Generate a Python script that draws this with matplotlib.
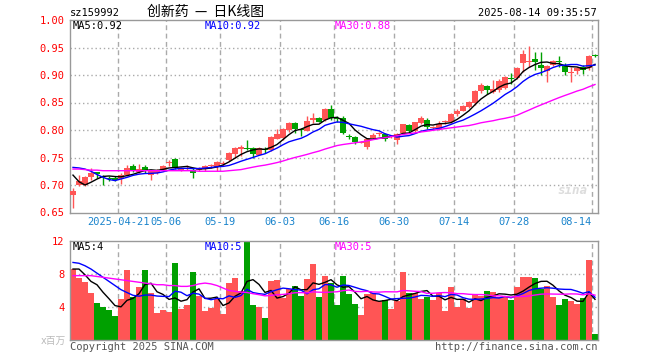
import numpy as np
import pandas as pd
import matplotlib.pyplot as plt

plt.rcParams["font.family"] = ["DejaVu Sans Mono", "Noto Sans CJK SC"]

# 日期刻度（交易日序号）
date_labels = ["2025-04-21", "05-06", "05-19", "06-03", "06-16", "06-30", "07-14", "07-28", "08-14"]
date_pos = [8, 16, 25, 35, 44, 54, 64, 74, 87]

# 日K数据
open_ = [0.682, 0.700, 0.700, 0.715, 0.723, 0.716, 0.713, 0.712, 0.711, 0.719,
         0.735, 0.724, 0.733, 0.719, 0.722, 0.727, 0.740, 0.747, 0.728, 0.729,
         0.727, 0.728, 0.729, 0.734, 0.733, 0.738, 0.745, 0.756, 0.765, 0.768,
         0.768, 0.755, 0.766, 0.764, 0.784, 0.785, 0.800, 0.812, 0.802, 0.799,
         0.819, 0.822, 0.818, 0.838, 0.822, 0.821, 0.789, 0.788, 0.777, 0.770,
         0.786, 0.793, 0.792, 0.787, 0.782, 0.794, 0.809, 0.798, 0.812, 0.819,
         0.804, 0.802, 0.814, 0.814, 0.829, 0.835, 0.842, 0.849, 0.871, 0.880,
         0.870, 0.873, 0.876, 0.895, 0.894, 0.921, 0.924, 0.929, 0.918, 0.907,
         0.919, 0.926, 0.917, 0.903, 0.907, 0.914, 0.912, 0.937]
high = [0.694, 0.718, 0.717, 0.731, 0.724, 0.718, 0.716, 0.716, 0.721, 0.736,
        0.738, 0.738, 0.736, 0.727, 0.729, 0.737, 0.745, 0.750, 0.733, 0.736,
        0.731, 0.733, 0.736, 0.738, 0.743, 0.743, 0.760, 0.770, 0.772, 0.782,
        0.770, 0.769, 0.769, 0.790, 0.802, 0.804, 0.815, 0.815, 0.804, 0.825,
        0.831, 0.824, 0.840, 0.845, 0.826, 0.826, 0.792, 0.789, 0.780, 0.786,
        0.795, 0.797, 0.794, 0.791, 0.794, 0.811, 0.811, 0.815, 0.826, 0.822,
        0.808, 0.817, 0.819, 0.831, 0.839, 0.846, 0.853, 0.872, 0.885, 0.882,
        0.891, 0.892, 0.899, 0.904, 0.915, 0.945, 0.953, 0.941, 0.941, 0.918,
        0.928, 0.934, 0.921, 0.915, 0.915, 0.918, 0.937, 0.938]
low = [0.658, 0.698, 0.698, 0.710, 0.712, 0.700, 0.708, 0.707, 0.702, 0.717,
       0.724, 0.722, 0.721, 0.709, 0.720, 0.725, 0.735, 0.729, 0.726, 0.727,
       0.713, 0.726, 0.725, 0.731, 0.726, 0.735, 0.744, 0.750, 0.753, 0.764,
       0.750, 0.754, 0.758, 0.762, 0.783, 0.782, 0.797, 0.794, 0.790, 0.798,
       0.812, 0.814, 0.816, 0.819, 0.814, 0.792, 0.783, 0.774, 0.776, 0.766,
       0.783, 0.789, 0.780, 0.785, 0.774, 0.793, 0.796, 0.797, 0.810, 0.801,
       0.802, 0.800, 0.810, 0.812, 0.826, 0.834, 0.840, 0.846, 0.868, 0.865,
       0.868, 0.870, 0.875, 0.884, 0.893, 0.905, 0.914, 0.910, 0.900, 0.887,
       0.917, 0.914, 0.900, 0.888, 0.902, 0.902, 0.910, 0.932]
close = [0.690, 0.707, 0.715, 0.722, 0.720, 0.714, 0.711, 0.710, 0.719, 0.731,
         0.726, 0.729, 0.727, 0.725, 0.726, 0.735, 0.742, 0.731, 0.730, 0.731,
         0.722, 0.731, 0.734, 0.736, 0.741, 0.740, 0.759, 0.768, 0.770, 0.766,
         0.756, 0.768, 0.764, 0.788, 0.792, 0.801, 0.813, 0.801, 0.800, 0.816,
         0.821, 0.815, 0.838, 0.821, 0.820, 0.794, 0.787, 0.778, 0.778, 0.784,
         0.791, 0.794, 0.784, 0.789, 0.792, 0.810, 0.798, 0.814, 0.821, 0.806,
         0.806, 0.810, 0.816, 0.829, 0.835, 0.844, 0.851, 0.871, 0.881, 0.873,
         0.875, 0.889, 0.897, 0.893, 0.913, 0.939, 0.926, 0.924, 0.913, 0.916,
         0.926, 0.924, 0.905, 0.905, 0.913, 0.909, 0.935, 0.935]
# 成交量（百万）
volume = [8.57, 7.56, 7.07, 5.74, 4.53, 4.04, 3.64, 2.91, 4.97, 8.48,
          5.25, 6.46, 8.48, 5.74, 3.31, 3.64, 3.43, 9.37, 3.76, 4.24,
          8.28, 5.37, 3.52, 3.92, 4.93, 3.15, 6.95, 7.56, 5.94, 11.9,
          4.24, 4.04, 2.71, 7.15, 7.27, 5.13, 6.14, 6.55, 5.33, 7.39,
          9.21, 5.25, 7.76, 6.95, 4.24, 7.80, 5.58, 4.36, 3.03, 5.58,
          5.74, 4.73, 4.85, 3.76, 4.73, 8.24, 5.74, 5.74, 4.97, 5.25,
          4.85, 5.74, 3.52, 6.46, 4.04, 4.97, 3.92, 5.58, 5.37, 5.94,
          5.86, 5.25, 5.37, 4.85, 6.46, 7.68, 7.68, 7.56, 6.14, 6.55,
          5.25, 4.24, 4.97, 4.73, 4.36, 5.13, 9.70, 0.73]

# 均线起始段（窗口之前的历史数据不可见，按图读取）
ma5_head = [0.718, 0.706, 0.700, 0.705]
ma10_head = [0.732, 0.731, 0.729, 0.725, 0.719, 0.714, 0.710, 0.708, 0.711]
ma30_head = [0.729, 0.729, 0.728, 0.727, 0.727, 0.726, 0.726, 0.726, 0.726, 0.726,
             0.726, 0.726, 0.726, 0.726, 0.726, 0.726, 0.726, 0.726, 0.726, 0.726,
             0.726, 0.725, 0.725, 0.725, 0.725, 0.725, 0.726, 0.727, 0.728]
vma5_head = [8.6, 8.6, 7.9, 7.1]
vma10_head = [9.4, 9.3, 9.0, 8.6, 8.1, 7.6, 7.1, 6.6, 6.1]
vma30_head = [7.8, 7.8, 7.8, 7.8, 7.7, 7.6, 7.5, 7.4, 7.3, 7.2,
              7.1, 7.0, 6.9, 6.8, 6.7, 6.7, 6.6, 6.6, 6.5, 6.5,
              6.6, 6.8, 6.9, 6.8, 6.6, 6.3, 6.0, 5.9, 5.8]


def moving_average(values, n, head):
    ma = pd.Series(values).rolling(n).mean().to_numpy()
    ma[:n - 1] = head
    return ma


RED = "#ff5555"
GREEN = "#00a000"
GRID = "#aaaaaa"

x = np.arange(len(close))
o, h, l, c = map(np.array, (open_, high, low, close))
up = c >= o
colors = np.where(up, RED, GREEN)

fig = plt.figure(figsize=(6.6, 3.6), dpi=100)
ax1 = fig.add_axes([70 / 660, 1 - 212.5 / 360, 528 / 660, 192.5 / 360])
ax2 = fig.add_axes([70 / 660, 20 / 360, 528 / 660, 99 / 360])

# K线
ax1.vlines(x, l, h, colors=colors, linewidth=1, zorder=3)
body = np.maximum(np.abs(c - o), 0.0018)
ax1.bar(x, body, bottom=np.minimum(o, c), width=0.84, color=colors, linewidth=0, zorder=3)
ax1.plot(x, moving_average(close, 5, ma5_head), color="black", lw=1, zorder=4)
ax1.plot(x, moving_average(close, 10, ma10_head), color="#0000ff", lw=1, zorder=4)
ax1.plot(x, moving_average(close, 30, ma30_head), color="#ff00ff", lw=1, zorder=4)
ax1.set_ylim(0.65, 1.00)
ax1.set_yticks([1.00, 0.95, 0.90, 0.85, 0.80, 0.75, 0.70, 0.65])
ax1.set_yticklabels(["%.2f" % v for v in [1.00, 0.95, 0.90, 0.85, 0.80, 0.75, 0.70, 0.65]])
for v in [0.95, 0.90, 0.85, 0.80, 0.75, 0.70]:
    ax1.axhline(v, color=GRID, lw=1, linestyle=(0, (1, 2)), zorder=1)

# 成交量
ax2.bar(x, volume, width=0.84, color=colors, linewidth=0, zorder=2)
ax2.plot(x, moving_average(volume, 5, vma5_head), color="black", lw=1, zorder=4)
ax2.plot(x, moving_average(volume, 10, vma10_head), color="#0000ff", lw=1, zorder=4)
ax2.plot(x, moving_average(volume, 30, vma30_head), color="#ff00ff", lw=1, zorder=4)
ax2.set_ylim(0, 12)
ax2.set_yticks([12, 8, 4])
ax2.set_yticklabels(["12", "8", "4"])
for v in [8, 4]:
    ax2.axhline(v, color=GRID, lw=1, linestyle=(0, (1, 2)), zorder=1)

for ax in (ax1, ax2):
    ax.set_xlim(-0.5, len(close) - 0.5)
    for p in date_pos:
        ax.axvline(p - 0.5, color=GRID, lw=1, linestyle=(0, (3.5, 2.5)), zorder=1)
    for s in ax.spines.values():
        s.set_color("#999999")
        s.set_linewidth(1)
    ax.tick_params(axis="y", length=0, pad=4, labelcolor="red", labelsize=7.5)
    ax.tick_params(axis="x", length=0)

ax1.set_xticks([p - 0.5 for p in date_pos])
ax1.set_xticklabels(date_labels, color="#1a84cc", fontsize=7.5)
ax1.tick_params(axis="x", pad=3)
ax1.get_xticklabels()[-1].set_horizontalalignment("right")
ax2.set_xticks([])

# 文字
def ftext(px, py, s, **kw):
    fig.text(px / 660, 1 - py / 360, s, va="center", **kw)

ftext(70, 13, "sz159992", fontsize=7.5)
ftext(206, 12, "创新药  —  日K线图", fontsize=10, ha="center", family=["Noto Sans CJK SC"])
ftext(597, 13, "2025-08-14 09:35:57", fontsize=7.5, ha="right")
ftext(73, 26, "MA5:0.92", fontsize=7.5)
ftext(205, 26, "MA10:0.92", fontsize=7.5, color="#0000ff")
ftext(335, 26, "MA30:0.88", fontsize=7.5, color="#ff00ff")
ftext(73, 247, "MA5:4", fontsize=7.5)
ftext(205, 247, "MA10:5", fontsize=7.5, color="#0000ff")
ftext(335, 247, "MA30:5", fontsize=7.5, color="#ff00ff")
ftext(70, 347, "Copyright 2025 SINA.COM", fontsize=7.5, color="#555555")
ftext(597, 347, "http://finance.sina.com.cn", fontsize=7.5, color="#555555", ha="right")
ftext(66, 341, "x百万", fontsize=7, color="#bbbbbb", ha="right", family=["DejaVu Sans", "Noto Sans CJK SC"])
ftext(572, 190, "sina", fontsize=9, color="#dddddd", ha="center", style="italic", weight="bold")

fig.savefig("out.png", dpi=100)
